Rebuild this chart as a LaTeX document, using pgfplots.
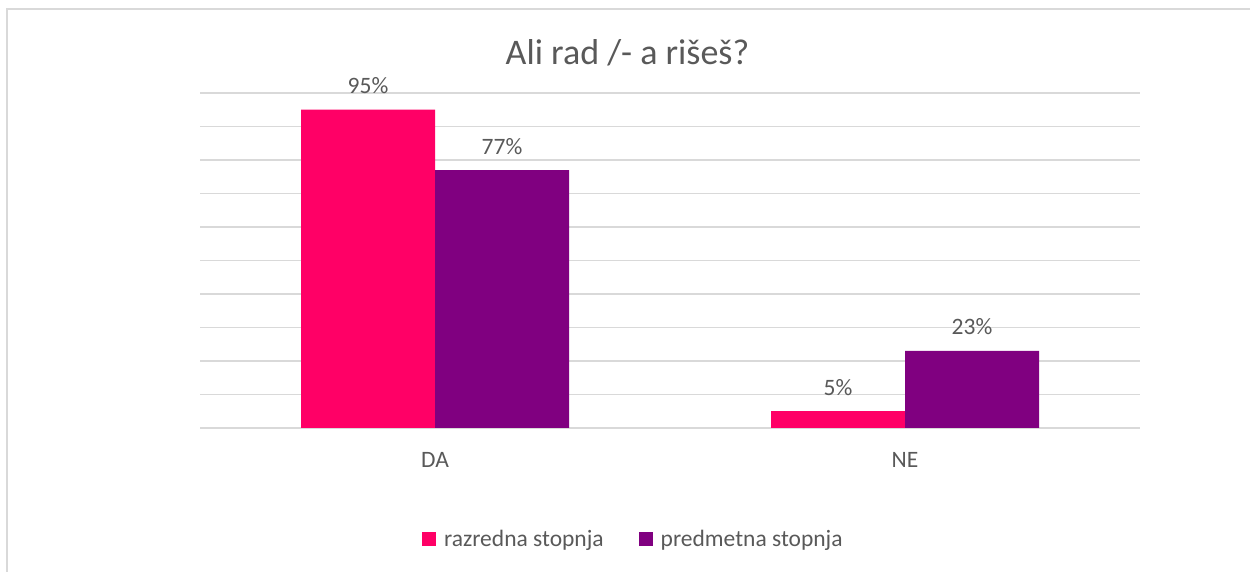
\documentclass[border=0pt]{standalone}
\usepackage{pgfplots}
\pgfplotsset{compat=1.18}
\usepackage{fontspec}
\setmainfont{Carlito}
\definecolor{razr}{HTML}{FF0066}
\definecolor{pred}{HTML}{800080}
\definecolor{gridc}{HTML}{D9D9D9}
\definecolor{txt}{HTML}{595959}
\begin{document}
\begin{tikzpicture}[x=1bp,y=1bp]
\useasboundingbox (0,0) rectangle (1250,572);
\draw[gridc,line width=1.5bp] (7,-2) -- (7,563) -- (1252,563);
\node[anchor=base,text=txt,font=\fontsize{36bp}{40bp}\selectfont] at (627.5,507) {Ali rad /- a rišeš?};
\begin{axis}[
  at={(200bp,144bp)}, anchor=south west,
  scale only axis, width=940bp, height=335bp,
  ybar=0pt, bar width=134bp,
  xmin=-0.5, xmax=1.5, ymin=0, ymax=100,
  xtick={0,1}, xticklabels={DA,NE},
  ytick={0,10,...,100}, yticklabels={},
  ymajorgrids, grid style={gridc,line width=1.3bp},
  axis line style={draw=none}, major tick length=0pt,
  /pgf/number format/assume math mode=true,
  xticklabel style={text=txt,font=\fontsize{23.5bp}{28bp}\selectfont,anchor=base,yshift=-40bp},
  nodes near coords={\pgfmathprintnumber{\pgfplotspointmeta}\%},
  every node near coord/.append style={anchor=base,yshift=16bp,text=txt,font=\fontsize{23.5bp}{28bp}\selectfont},
  legend columns=2,
  legend style={at={(0.461,-0.331)},anchor=center,draw=none,fill=none,
    text=txt,font=\fontsize{23.5bp}{28bp}\selectfont,
    /tikz/every odd column/.append style={column sep=6bp},
    /tikz/every even column/.append style={column sep=33bp},
    inner sep=0pt},
  legend image code/.code={\fill[#1,draw=none] (0bp,-7bp) rectangle (14bp,7bp);},
]
\addplot[fill=razr,draw=none] coordinates {(0,95) (1,5)};
\addplot[fill=pred,draw=none] coordinates {(0,77) (1,23)};
\legend{razredna stopnja,predmetna stopnja}
\end{axis}
\end{tikzpicture}
\end{document}
